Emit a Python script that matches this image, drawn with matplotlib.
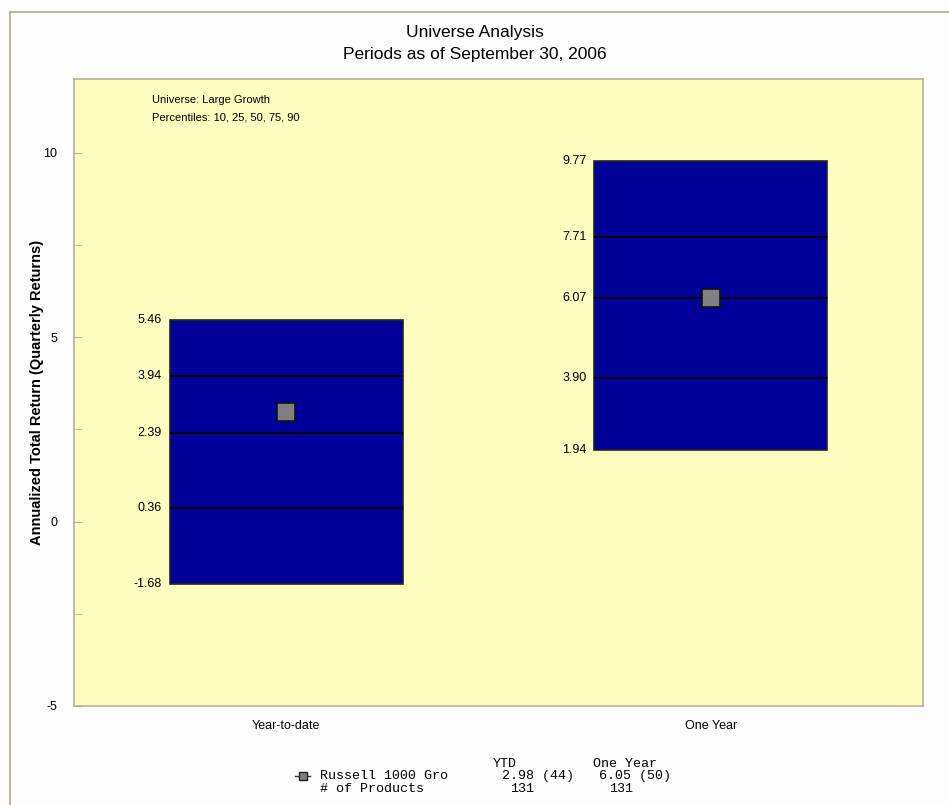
import matplotlib.pyplot as plt
from matplotlib.lines import Line2D

plt.rcParams['font.family'] = ['Liberation Sans', 'DejaVu Sans']
plt.rcParams['axes.unicode_minus'] = False

# universe percentiles (10, 25, 50, 75, 90) per period
periods = ['Year-to-date', 'One Year']
p10 = [-1.68, 1.94]
p25 = [0.36, 3.90]
p50 = [2.39, 6.07]
p75 = [3.94, 7.71]
p90 = [5.46, 9.77]

# benchmark returns and ranks
bench_name = 'Russell 1000 Gro'
bench_ret = [2.98, 6.05]
bench_rank = [44, 50]
n_products = [131, 131]

fig = plt.figure(figsize=(9.49, 8.05), dpi=100, facecolor='#fdfdfd')
ax = fig.add_axes([74 / 949, 1 - 706 / 805, 849 / 949, 627 / 805])
ax.set_facecolor('#fffdc0')

box_w = 0.55
xs = list(range(len(periods)))
ax.bar(xs, [hi - lo for lo, hi in zip(p10, p90)], bottom=p10, width=box_w,
       color='#000099', edgecolor='#222222', linewidth=1.2, zorder=2)
for x, vals in zip(xs, zip(p25, p50, p75)):
    ax.hlines(vals, x - box_w / 2, x + box_w / 2, colors='black', linewidth=1.3, zorder=3)
for x, vals in zip(xs, zip(p10, p25, p50, p75, p90)):
    for v in vals:
        ax.text(x - box_w / 2 - 0.018, v, f'{v:.2f}', ha='right', va='center',
                fontsize=9, color='black')

ax.plot(xs, bench_ret, linestyle='none', marker='s', markersize=13,
        markerfacecolor='#808080', markeredgecolor='#111111', markeredgewidth=1.2, zorder=4)

ax.set_xlim(-0.5, 1.5)
ax.set_ylim(-5, 12)
ax.set_yticks([10, 5, 0, -5])
ax.set_yticks([7.5, 2.5, -2.5], minor=True)
ax.set_xticks(xs)
ax.set_xticklabels(periods, fontsize=9)
ax.tick_params(axis='x', length=0, pad=10)
ax.tick_params(axis='y', which='both', direction='in', length=6, color='#b8b4a0',
               labelsize=9, pad=12)
for s in ax.spines.values():
    s.set_color('#b8b0a0')
    s.set_linewidth(1.2)

ax.set_ylabel('Annualized Total Return (Quarterly Returns)', fontsize=10.5,
              fontweight='bold')
ax.yaxis.set_label_coords(-0.046 + 9 / 849, 0.5)

ax.text(0.092, 0.967, 'Universe: Large Growth', transform=ax.transAxes, fontsize=8,
        va='center')
ax.text(0.092, 0.938, 'Percentiles: 10, 25, 50, 75, 90', transform=ax.transAxes,
        fontsize=8, va='center')

fig.text(0.5, 1 - 33 / 805, 'Universe Analysis', ha='center', va='center', fontsize=12.5)
fig.text(0.5, 1 - 55 / 805, 'Periods as of September 30, 2006', ha='center', va='center',
         fontsize=12.5)

# frame lines along the left and top edges
fig.add_artist(Line2D([10 / 949, 10 / 949], [0, 1 - 12 / 805], color='#b0a890', lw=1.2))
fig.add_artist(Line2D([10 / 949, 1], [1 - 12 / 805, 1 - 12 / 805], color='#b0a890', lw=1.2))

# summary table beneath the plot
mono = 'Liberation Mono'
tsize = 9.6


def fy(y):
    return 1 - y / 805


fig.text(493 / 949, fy(764), 'YTD', ha='left', va='center', family=mono, fontsize=tsize)
fig.text(593 / 949, fy(764), 'One Year', ha='left', va='center', family=mono, fontsize=tsize)
fig.add_artist(Line2D([295 / 949, 310 / 949], [fy(776), fy(776)], color='#333333', lw=1))
fig.add_artist(Line2D([302.5 / 949], [fy(776)], marker='s', markersize=6,
                      markerfacecolor='#808080', markeredgecolor='#222222', linestyle='none'))
fig.text(320 / 949, fy(776), bench_name, ha='left', va='center', family=mono, fontsize=tsize)
fig.text(502 / 949, fy(776), f'{bench_ret[0]:.2f} ({bench_rank[0]})', ha='left', va='center',
         family=mono, fontsize=tsize)
fig.text(599 / 949, fy(776), f'{bench_ret[1]:.2f} ({bench_rank[1]})', ha='left', va='center',
         family=mono, fontsize=tsize)
fig.text(320 / 949, fy(789), '# of Products', ha='left', va='center', family=mono,
         fontsize=tsize)
fig.text(510 / 949, fy(789), str(n_products[0]), ha='left', va='center', family=mono,
         fontsize=tsize)
fig.text(609 / 949, fy(789), str(n_products[1]), ha='left', va='center', family=mono,
         fontsize=tsize)

fig.savefig('out.png', dpi=100, facecolor=fig.get_facecolor())
